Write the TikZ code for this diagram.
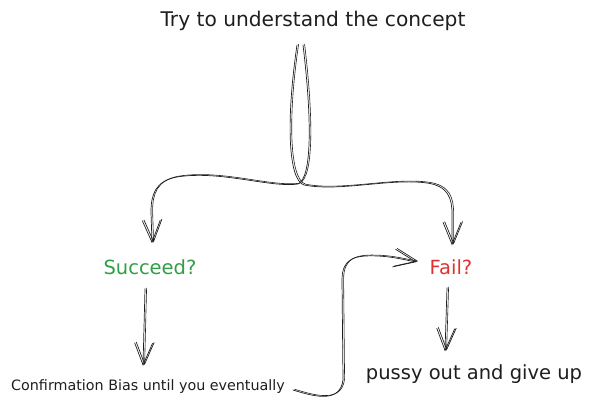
\documentclass[tikz,border=0pt]{standalone}
\usepackage{fontspec}
\setmainfont{DejaVu Sans}
\usetikzlibrary{arrows.meta}
\definecolor{Ink}{HTML}{1E1E1E}
\definecolor{GoGreen}{HTML}{2F9E44}
\definecolor{NoRed}{HTML}{E03131}

\begin{document}
\begin{tikzpicture}[x=1pt,y=-1pt,
    lbl/.style={inner sep=0pt,font=\fontsize{19.5}{22}\selectfont,text=Ink},
    sketch/.style={draw=Ink,line width=0.7pt,line cap=round,
      -{Straight Barb[length=22pt,width=18pt,line width=0.7pt]},
      postaction={draw=Ink,line width=0.6pt,transform canvas={shift={(1.6pt,0.8pt)}}}}]
  \useasboundingbox (0,0) rectangle (591,411);
  \node[lbl,font=\fontsize{20.2}{23}\selectfont] (concept) at (313,21) {Try to understand the concept};
  \node[lbl,text=GoGreen] (succ) at (150,267) {Succeed?};
  \node[lbl,text=NoRed] (fail) at (451,267) {Fail?};
  \node[lbl] (giveup) at (474,374) {pussy out and give up};
  \node[lbl,font=\fontsize{14.3}{16}\selectfont] (bias) at (148,387)
    {Confirmation Bias until you eventually};
  % the two strands out of the title
  \draw[sketch] ([xshift=-10pt,yshift=-14pt]concept.south)
    .. controls (312,120) and (312,178) .. (298,184)
    .. controls (270,188) and (220,170) .. (177,177)
    .. controls (155,181) and (151,195) .. (151,212)
    -- ([xshift=2pt,yshift=16pt]succ.north);
  \draw[sketch] ([xshift=-16pt,yshift=-14pt]concept.south)
    .. controls (286,120) and (288,180) .. (304,185)
    .. controls (340,192) and (390,178) .. (427,183)
    .. controls (448,186) and (452,198) .. (452,214)
    -- ([xshift=1pt,yshift=14pt]fail.north);
  \draw[sketch] ([xshift=-5pt,yshift=-14pt]succ.south)
    -- ([xshift=-5pt,yshift=14pt]bias.north);
  \draw[sketch] ([xshift=-4pt,yshift=-13pt]fail.south)
    -- ([xshift=-29pt,yshift=13pt]giveup.north);
  \draw[sketch] ([xshift=8pt,yshift=-3pt]bias.east)
    .. controls (318,398) and (340,402) .. (343,380)
    -- (342,280)
    .. controls (342,258) and (355,255) .. (378,256)
    .. controls (395,257) and (405,260) .. ([xshift=-13pt,yshift=5pt]fail.west);
\end{tikzpicture}
\end{document}
